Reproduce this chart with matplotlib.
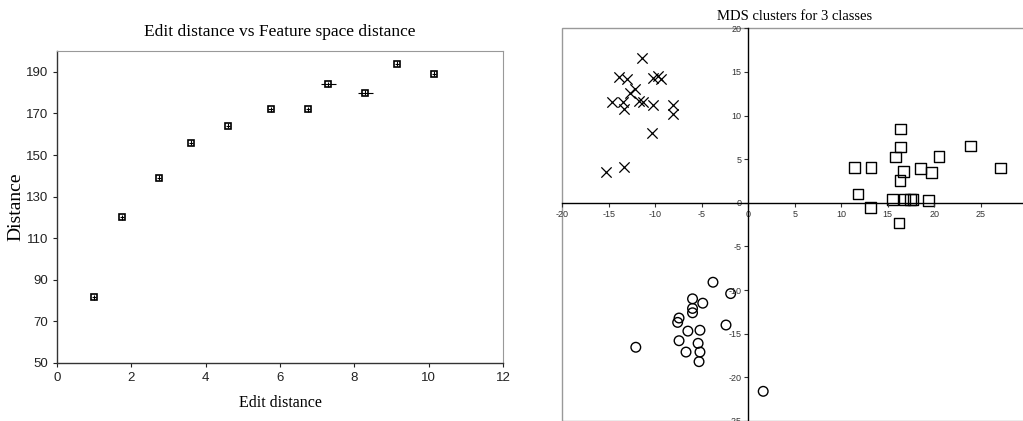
# -*- coding: utf-8 -*-
'''Edit distance vs feature space distance, and MDS clusters for 3 classes.'''
import matplotlib
matplotlib.use('Agg')
import matplotlib.pyplot as plt
from matplotlib.patches import Rectangle

plt.rcParams['axes.unicode_minus'] = False

# left panel: mean feature distance for each edit distance
edit_dist = [1.0, 1.75, 2.75, 3.6, 4.6, 5.75, 6.75, 7.3, 8.3, 9.15, 10.15]
feat_dist = [81.5, 120, 139, 156, 164, 172, 172, 184, 180, 194, 189]
x_err = [0.06, 0.06, 0.06, 0.06, 0.06, 0.06, 0.06, 0.2, 0.2, 0.06, 0.06]
y_err = [1.2] * 11

# right panel: MDS coordinates for the three classes
cross_x = [-11.4, -13.9, -13.0, -10.3, -9.7, -9.4, -12.2, -12.7, -14.7, -13.5,
           -13.4, -11.8, -11.3, -10.3, -8.1, -8.1, -10.35, -15.3, -13.4]
cross_y = [16.6, 14.4, 14.15, 14.35, 14.55, 14.15, 13.1, 12.55, 11.6, 11.6,
           10.8, 11.7, 11.6, 11.2, 11.2, 10.2, 8.0, 3.5, 4.05]
square_x = [16.4, 16.4, 15.8, 11.4, 13.2, 16.7, 16.3, 18.5, 19.7, 20.5,
            23.9, 27.1, 11.8, 13.1, 15.5, 16.8, 17.4, 17.7, 19.35, 16.2]
square_y = [8.45, 6.4, 5.25, 4.05, 4.05, 3.55, 2.6, 3.9, 3.5, 5.3,
            6.5, 4.0, 1.0, -0.5, 0.4, 0.4, 0.4, 0.4, 0.3, -2.3]
circle_x = [-3.8, -1.9, -6.0, -4.9, -6.0, -6.0, -7.45, -7.6, -2.4, -6.5,
            -5.2, -7.45, -5.4, -12.1, -6.7, -5.2, -5.3, 1.6]
circle_y = [-9.1, -10.4, -11.0, -11.5, -12.1, -12.6, -13.2, -13.7, -14.0, -14.7,
            -14.6, -15.8, -16.1, -16.55, -17.1, -17.1, -18.2, -21.6]

serif = 'Liberation Serif'
sans = 'Liberation Sans'

fig = plt.figure(figsize=(10.23, 4.21), dpi=100)

# ---- left panel
ax0 = fig.add_axes([0.0557, 0.1378, 0.436, 0.741])
ax0.errorbar(edit_dist, feat_dist, xerr=x_err, yerr=y_err, fmt='s', ms=5,
             mfc='none', mec='black', mew=1.2, ecolor='black', elinewidth=0.8,
             capsize=0)
ax0.set_xlim(0, 12)
ax0.set_ylim(50, 200)
ax0.set_xticks(range(0, 13, 2))
ax0.set_yticks(range(50, 200, 20))
for s in ['top', 'right']:
    ax0.spines[s].set_color('#999999')
for s in ['left', 'bottom']:
    ax0.spines[s].set_color('#333333')
    ax0.spines[s].set_linewidth(1.0)
ax0.tick_params(direction='out', length=3, width=0.8, labelsize=9.5, colors='#222222')
for lab in ax0.get_xticklabels() + ax0.get_yticklabels():
    lab.set_family(sans)
ax0.set_title('Edit distance vs Feature space distance', family=serif, fontsize=12.5, pad=11)
ax0.set_xlabel('Edit distance', family=serif, fontsize=11.5, labelpad=8)
ax0.set_ylabel('Distance', family=serif, fontsize=14, labelpad=1)

# ---- right panel
ax1 = fig.add_axes([0.5497, 0.0, 0.4545, 0.9328])
ax1.scatter(cross_x, cross_y, marker='x', s=55, c='black', linewidths=0.9)
ax1.scatter(square_x, square_y, marker='s', s=60, facecolors='none',
            edgecolors='black', linewidths=1.0)
ax1.scatter(circle_x, circle_y, marker='o', s=48, facecolors='none',
            edgecolors='black', linewidths=1.0)
ax1.set_xlim(-20, 30)
ax1.set_ylim(-25, 20)
ax1.set_xticks(range(-20, 30, 5))
ax1.set_yticks(range(-25, 21, 5))
ax1.spines['left'].set_position(('data', 0))
ax1.spines['bottom'].set_position(('data', 0))
ax1.spines['top'].set_visible(False)
ax1.spines['right'].set_visible(False)
for s in ['left', 'bottom']:
    ax1.spines[s].set_color('black')
    ax1.spines[s].set_linewidth(1.0)
ax1.add_patch(Rectangle((0, 0), 1, 1, transform=ax1.transAxes, fill=False,
                        edgecolor='#999999', linewidth=1.0, clip_on=False))
ax1.tick_params(direction='out', length=3, width=0.8, labelsize=6.5,
                colors='#333333', pad=2)
for lab in ax1.get_xticklabels() + ax1.get_yticklabels():
    lab.set_family(sans)
ax1.set_title('MDS clusters for 3 classes', family=serif, fontsize=10.5, pad=6)

fig.savefig('out.png', dpi=100)
